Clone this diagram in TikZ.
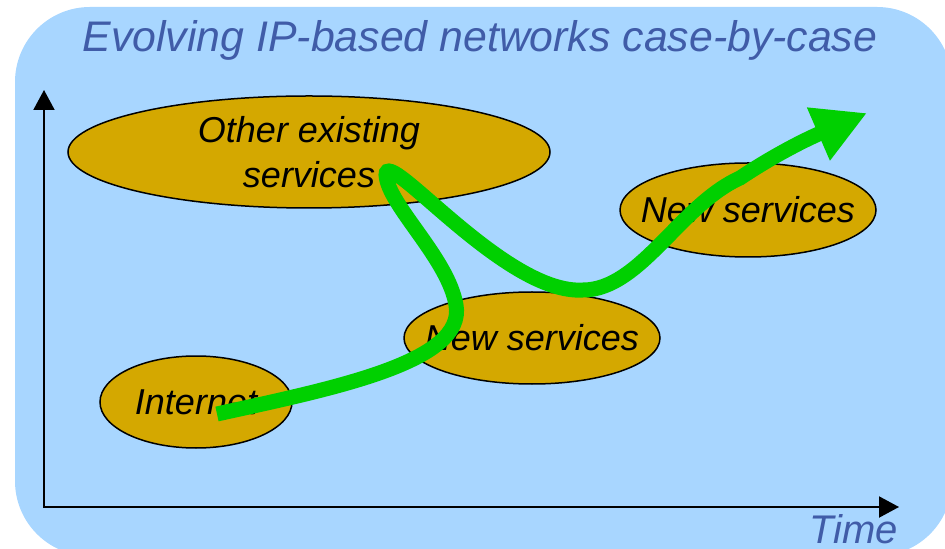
\documentclass[tikz,border=0pt]{standalone}
\usepackage{fontspec}
\setmainfont{Liberation Sans}
\usetikzlibrary{shapes.geometric,arrows.meta}

\definecolor{skyfill}{RGB}{168,214,255}
\definecolor{servicegold}{RGB}{212,168,0}
\definecolor{evolvegreen}{RGB}{0,208,0}
\definecolor{titleblue}{RGB}{64,92,168}

\tikzset{
  service/.style={ellipse, draw=black, line width=0.75pt, fill=servicegold,
    inner sep=0pt, align=center, font=\itshape\fontsize{18}{22.5}\selectfont},
  bluetext/.style={text=titleblue, inner sep=0pt, font=\itshape\fontsize{#1}{#1}\selectfont},
  axis/.style={line width=1pt,
    {Triangle[length=10pt,width=10.5pt]}-{Triangle[length=10pt,width=10.5pt]}},
  evolution/.style={draw=evolvegreen, line width=7.5pt,
    -{Triangle[length=26.5pt,width=27pt]}}
}

\begin{document}
\begin{tikzpicture}[x=0.5pt,y=-0.5pt]
    \clip (0,0) rectangle (945,549);
    \fill[skyfill, rounded corners=37.5pt] (15,7) rectangle (952,556);

    \node[bluetext=21.4, anchor=base] (title) at (480,52) {Evolving IP-based networks case-by-case};

    % Axes
    \coordinate (ytop) at (44,90);
    \coordinate (origin) at (44,507);
    \coordinate (xend) at (899,507);
    \draw[axis] (ytop) -- (origin) -- (xend);
    \node[bluetext=20, anchor=base east] (time) at (898,543) {Time};

    % Services
    \node[service, minimum width=241pt, minimum height=56pt] (existing) at (309,152) {Other existing\\services};
    \node[service, inner xsep=-12pt, minimum width=128pt, minimum height=47pt] (newlate) at (748,210) {New services};
    \node[service, inner xsep=-12pt, minimum width=128pt, minimum height=46pt] (newearly) at (532,338) {New services};
    \node[service, minimum width=96pt, minimum height=46pt] (internet) at (196,402) {Internet};

    % Evolution path
    \coordinate (start) at (217,414);
    \coordinate (turn) at (386,175);
    \coordinate (dip) at (583,290);
    \coordinate (goal) at (867,113);
    \draw[evolution] (start) .. controls (335,388) and (466,362) .. (456,305)
        .. controls (448,258) and (388,205) .. (turn)
        .. controls (386,145) and (505,295) .. (dip)
        .. controls (640,290) and (680,205) .. (740,178)
        .. controls (770,158) and (800,142) .. (goal);
\end{tikzpicture}
\end{document}
